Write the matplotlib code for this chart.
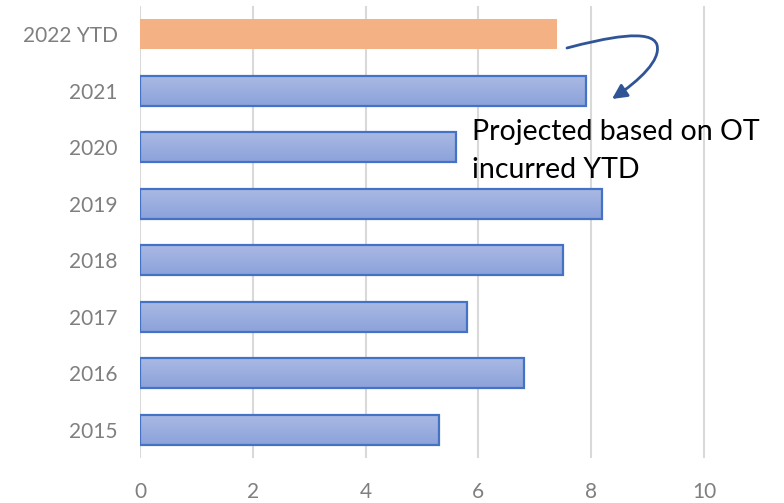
import numpy as np
import matplotlib
matplotlib.use("Agg")
import matplotlib.pyplot as plt
from matplotlib.patches import FancyArrowPatch
from matplotlib.path import Path

plt.rcParams["font.family"] = ["Lato", "DejaVu Sans"]

# Overtime by year (bottom to top)
years = ["2015", "2016", "2017", "2018", "2019", "2020", "2021", "2022 YTD"]
overtime = [5.3, 6.8, 5.8, 7.5, 8.2, 5.6, 7.9, 7.4]
x_ticks = [0, 2, 4, 6, 8, 10]
note = "Projected based on OT\nincurred YTD"

W, H = 784, 503
fig = plt.figure(figsize=(W / 100, H / 100), dpi=100)
ax = fig.add_axes([140 / W, 1 - 458 / H, (W - 140) / W, (458 - 6) / H])

blue_edge = "#4472C4"
orange = "#F4B183"
ypos = np.arange(len(years))
bars = ax.barh(ypos, overtime, height=0.53, zorder=3)

# vertical gradient used for the blue bars (darker at the bottom)
grad = np.linspace(0, 1, 64).reshape(-1, 1)
cmap = matplotlib.colors.LinearSegmentedColormap.from_list(
    "bluegrad", ["#8BA2DA", "#AAB9E4"])

for i, b in enumerate(bars):
    x0, y0 = b.get_x(), b.get_y()
    w, h = b.get_width(), b.get_height()
    if years[i].endswith("YTD"):
        b.set_facecolor(orange)
        b.set_edgecolor("none")
    else:
        b.set_facecolor("none")
        b.set_edgecolor(blue_edge)
        b.set_linewidth(1.6)
        b.set_zorder(4)
        im = ax.imshow(grad, extent=[x0, x0 + w, y0, y0 + h], origin="lower",
                       cmap=cmap, aspect="auto", zorder=3, interpolation="bilinear")
        im.set_clip_path(b)

ax.set_xlim(0, (W - 140) / 56.4)
ax.set_ylim(-0.5, len(years) - 0.5)
ax.set_xticks(x_ticks)
ax.set_yticks(ypos)
ax.set_yticklabels(years)
ax.grid(axis="x", color="#D9D9D9", linewidth=1.5, zorder=0)
ax.grid(axis="y", visible=False)
for s in ax.spines.values():
    s.set_visible(False)
ax.tick_params(axis="both", length=0, labelcolor="#7F7F7F", labelsize=15)
ax.tick_params(axis="x", pad=17)
ax.tick_params(axis="y", pad=16)

# annotation text
fig.text(472 / W, 1 - 119 / H, note, fontsize=20.5, color="black",
         va="top", ha="left", linespacing=1.55)

# curved arrow from the YTD bar down toward the note
px = [(567, 48), (605, 38), (652, 28), (657, 45),
      (661, 60), (640, 80), (612, 99)]
verts = [(x / W, 1 - y / H) for x, y in px]
codes = [Path.MOVETO, Path.CURVE4, Path.CURVE4, Path.CURVE4,
         Path.CURVE4, Path.CURVE4, Path.CURVE4]
arrow = FancyArrowPatch(path=Path(verts, codes), arrowstyle="-|>",
                        mutation_scale=22, color="#2F5597", linewidth=2,
                        transform=fig.transFigure)
fig.patches.append(arrow)

fig.savefig("out.png", dpi=100)
